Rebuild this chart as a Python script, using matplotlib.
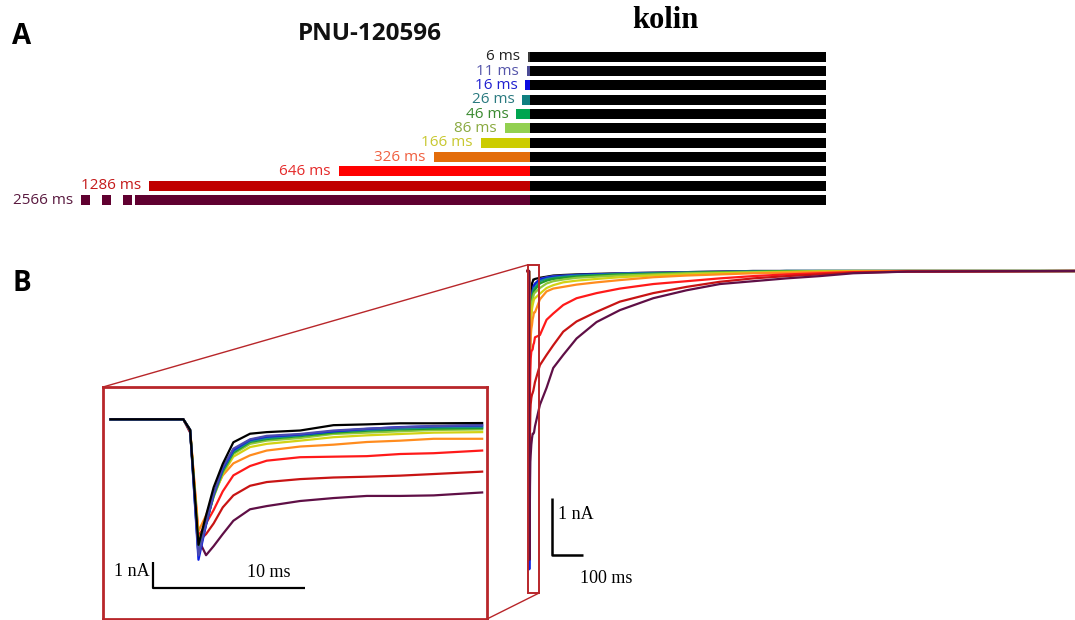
import numpy as np
import matplotlib.pyplot as plt
from matplotlib.patches import Rectangle, ConnectionPatch

W, H = 1075, 620

# ---- panel A: PNU-120596 pre-application (ms), followed by kolin
durations = [6, 11, 16, 26, 46, 86, 166, 326, 646, 1286, 2566]
dur_labels = [f'{d} ms' for d in durations]
bar_colors = ['#3a3a3a', '#4b4b95', '#0a0ae0', '#0f7f80', '#00a550', '#92d050',
              '#cccc00', '#e36c0a', '#ff0000', '#c00000', '#600030']
text_colors = ['#222222', '#5555aa', '#2020d0', '#2a7a80', '#3a8a30', '#8aaa40',
               '#c8c830', '#f06040', '#e52a2a', '#c41a1a', '#5a1a40']
kolin_ms = 1000
cut_ms = 1334            # 2566 ms bar is shown broken beyond this
dash_starts = [1517, 1447, 1376]
dash_ms = 32

# ---- panel B inset: first ~20 ms of each response (ms, nA)
inset_t = [-4.8, 0, 0.45, 1.0, 1.5, 2.0, 2.6, 3.3, 4.4, 5.5, 7.7, 9.9, 12.1, 14.3, 16.5, 19.7]
inset_nA = [
    [0, 0, -0.40, -4.70, -3.60, -2.55, -1.67, -0.86, -0.54, -0.48, -0.42, -0.22, -0.19, -0.15, -0.15, -0.14],
    [0, 0, -0.40, -5.10, -3.90, -2.80, -1.80, -1.10, -0.75, -0.62, -0.55, -0.42, -0.35, -0.30, -0.25, -0.22],
    [0, 0, -0.40, -5.26, -3.95, -2.80, -1.85, -1.15, -0.77, -0.65, -0.57, -0.45, -0.36, -0.29, -0.26, -0.23],
    [0, 0, -0.40, -5.07, -3.95, -2.85, -1.90, -1.20, -0.82, -0.70, -0.60, -0.45, -0.40, -0.35, -0.30, -0.29],
    [0, 0, -0.40, -4.90, -3.90, -2.85, -1.95, -1.25, -0.85, -0.74, -0.63, -0.50, -0.43, -0.38, -0.35, -0.33],
    [0, 0, -0.40, -4.75, -3.85, -2.90, -2.00, -1.30, -0.92, -0.80, -0.70, -0.55, -0.50, -0.45, -0.40, -0.38],
    [0, 0, -0.40, -4.57, -3.80, -2.90, -2.05, -1.40, -1.04, -0.92, -0.80, -0.67, -0.60, -0.55, -0.50, -0.48],
    [0, 0, -0.40, -4.19, -3.60, -2.80, -2.10, -1.65, -1.35, -1.17, -1.02, -0.95, -0.85, -0.80, -0.73, -0.73],
    [0, 0, -0.40, -4.38, -3.90, -3.40, -2.70, -2.10, -1.75, -1.55, -1.42, -1.40, -1.38, -1.30, -1.27, -1.17],
    [0, 0, -0.45, -4.57, -4.30, -3.90, -3.30, -2.85, -2.49, -2.35, -2.24, -2.18, -2.15, -2.11, -2.05, -1.96],
    [0, 0, -0.50, -4.50, -5.09, -4.75, -4.30, -3.80, -3.37, -3.25, -3.06, -2.95, -2.87, -2.87, -2.85, -2.74],
]

# ---- panel B main: slow recovery after the first 20 ms (ms, nA)
tail_t = [36, 58, 80, 113, 157, 223, 300, 410, 520, 630, 740, 850, 960, 1070, 1250, 1800]
tail_nA = [
    [-0.12, -0.10, -0.08, -0.07, -0.06, -0.05, -0.04, -0.03, -0.02, -0.01, 0, 0, 0, 0, 0, 0],
    [-0.14, -0.11, -0.09, -0.08, -0.07, -0.06, -0.04, -0.03, -0.02, -0.01, 0, 0, 0, 0, 0, 0],
    [-0.15, -0.12, -0.10, -0.09, -0.07, -0.06, -0.05, -0.04, -0.03, -0.02, -0.01, 0, 0, 0, 0, 0],
    [-0.18, -0.14, -0.12, -0.10, -0.08, -0.07, -0.05, -0.04, -0.03, -0.02, -0.01, 0, 0, 0, 0, 0],
    [-0.22, -0.17, -0.14, -0.12, -0.10, -0.08, -0.06, -0.05, -0.03, -0.02, -0.01, 0, 0, 0, 0, 0],
    [-0.30, -0.22, -0.18, -0.15, -0.12, -0.10, -0.08, -0.06, -0.04, -0.03, -0.02, -0.01, 0, 0, 0, 0],
    [-0.40, -0.30, -0.25, -0.20, -0.17, -0.14, -0.11, -0.08, -0.06, -0.04, -0.03, -0.02, -0.01, 0, 0, 0],
    [-0.50, -0.36, -0.31, -0.28, -0.24, -0.20, -0.16, -0.11, -0.08, -0.06, -0.04, -0.03, -0.02, -0.01, 0, 0],
    [-1.13, -0.86, -0.75, -0.60, -0.48, -0.39, -0.31, -0.23, -0.18, -0.13, -0.09, -0.06, -0.04, -0.02, -0.01, 0],
    [-1.66, -1.48, -1.31, -1.07, -0.89, -0.72, -0.54, -0.39, -0.28, -0.19, -0.13, -0.09, -0.06, -0.03, -0.01, 0],
    [-2.36, -2.06, -1.71, -1.48, -1.19, -0.90, -0.69, -0.48, -0.34, -0.23, -0.18, -0.13, -0.09, -0.04, -0.01, 0],
]
trace_colors = ['#000000', '#4b4bb0', '#0a1ee6', '#1a8c8c', '#1f9a2a', '#8cc83c',
                '#d2d214', '#ff8c1e', '#ff1a1a', '#c81414', '#5f0f46']

BOX_RED = '#b8262a'
SANS = 'Open Sans'
SERIF = 'Liberation Serif'


def px_box(x0, y0, x1, y1):
    # axes rectangle from pixel edges (origin top-left)
    return [x0 / W, 1 - y1 / H, (x1 - x0) / W, (y1 - y0) / H]


fig = plt.figure(figsize=(W / 100, H / 100), dpi=100)

# ---------------- panel A ----------------
ax_a = fig.add_axes(px_box(0, 49.5, W, 207.2))
ms_per_px = 1 / 0.296
ax_a.set_xlim(-530 * ms_per_px, (W - 530) * ms_per_px)
ax_a.set_ylim(10.5, -0.5)
ax_a.axis('off')

bar_h = 0.7
gap = 27
for i, d in enumerate(durations):
    shown = min(d, cut_ms)
    ax_a.barh(i, shown, left=-shown, height=bar_h, color=bar_colors[i], linewidth=0)
    ax_a.barh(i, kolin_ms, left=0, height=bar_h, color='black', linewidth=0)
    label_x = -shown - gap
    if d > cut_ms:
        for s in dash_starts:
            ax_a.barh(i, dash_ms, left=-s, height=bar_h, color=bar_colors[i], linewidth=0)
        label_x = -dash_starts[0] - gap
    ax_a.text(label_x, i, dur_labels[i], ha='right', va='center', fontsize=11,
              color=text_colors[i], family=SANS)

fig.text(370 / W, 1 - 34 / H, 'PNU-120596', ha='center', va='center',
         fontsize=17.5, fontweight='bold', family=SANS, color='#111111')
fig.text(665 / W, 1 - 20 / H, 'kolin', ha='center', va='center',
         fontsize=22, fontweight='bold', family=SERIF, color='black')
fig.text(22 / W, 1 - 37 / H, 'A', ha='center', va='center',
         fontsize=20, fontweight='bold', family=SANS)
fig.text(22 / W, 1 - 284 / H, 'B', ha='center', va='center',
         fontsize=20, fontweight='bold', family=SANS)

# ---------------- panel B: full traces ----------------
ax_m = fig.add_axes(px_box(500, 250, W, H))
ax_m.set_xlim(-29 / 0.303, (W - 529) / 0.303)
ax_m.set_ylim(-(H - 271) / 56.7, 21 / 56.7)
ax_m.axis('off')

for i in range(len(durations)):
    t = inset_t + tail_t
    y = inset_nA[i] + tail_nA[i]
    ax_m.plot(t, y, color=trace_colors[i], lw=1.6, solid_joinstyle='round')

zoom_rect = Rectangle((-3.3, -5.68), 36.3, 5.79, fill=False, edgecolor=BOX_RED, lw=1.4, zorder=5)
ax_m.add_patch(zoom_rect)

# scale bar 100 ms / 1 nA
ax_m.plot([77, 77, 177], [-4, -5, -5], color='black', lw=1.8, solid_capstyle='butt')
ax_m.text(97, -4.3, '1 nA', ha='left', va='center', fontsize=13, family=SERIF)
ax_m.text(256, -5.42, '100 ms', ha='center', va='center', fontsize=13, family=SERIF)

# ---------------- panel B: inset ----------------
ax_i = fig.add_axes(px_box(103, 387, 487, 619))
ax_i.set_xlim(-80.3 / 15.17, 303.7 / 15.17)
ax_i.set_ylim(-199.7 / 26.7, 32.3 / 26.7)
ax_i.set_xticks([])
ax_i.set_yticks([])
for sp in ax_i.spines.values():
    sp.set_color(BOX_RED)
    sp.set_linewidth(2)

for i in reversed(range(len(durations))):
    ax_i.plot(inset_t, inset_nA[i], color=trace_colors[i], lw=1.6, solid_joinstyle='round')

ax_i.plot([-2, -2, 8], [-5.33, -6.33, -6.33], color='black', lw=1.6, solid_capstyle='butt')
ax_i.text(-2.2, -5.71, '1 nA', ha='right', va='center', fontsize=13, family=SERIF)
ax_i.text(5.65, -5.75, '10 ms', ha='center', va='center', fontsize=13, family=SERIF)

# connector lines between zoom box and inset
for xy_a, xy_b in [((-3.3, 0.11), (0, 1)), ((33, -5.68), (1, 0))]:
    con = ConnectionPatch(xyA=xy_a, coordsA=ax_m.transData,
                          xyB=xy_b, coordsB=ax_i.transAxes,
                          color=BOX_RED, lw=1.0)
    fig.add_artist(con)

fig.savefig('out.png', dpi=100)
